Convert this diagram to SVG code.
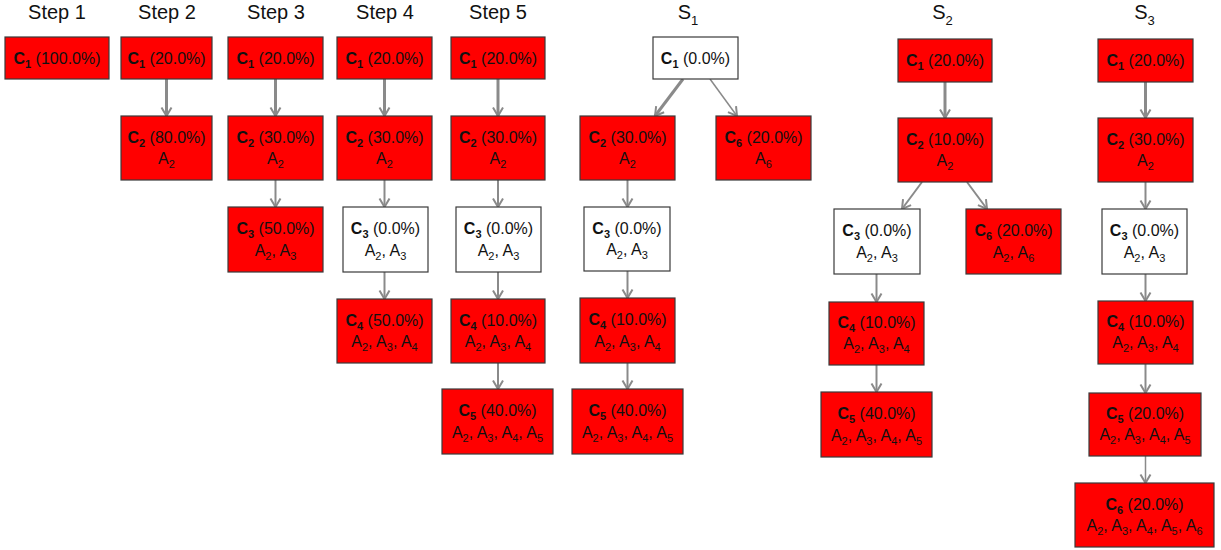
<svg xmlns="http://www.w3.org/2000/svg" width="1221" height="550" viewBox="0 0 1221 550">
  <defs>
    <marker id="vee" markerUnits="userSpaceOnUse" markerWidth="12" markerHeight="12" refX="10" refY="6" orient="auto" overflow="visible">
      <path d="M1.5,1 L10,6 L1.5,11" fill="none" stroke="#8a8a8a" stroke-width="2" stroke-linejoin="miter"/>
    </marker>
    <style>
      .title { font-family: "Liberation Sans", Arial, sans-serif; font-size: 20px; fill: #111; text-anchor: middle; }
      .lbl { font-family: "Liberation Sans", Arial, sans-serif; font-size: 16px; fill: #111; text-anchor: middle; }
      .b { font-weight: bold; }
      .sub { font-size: 11px; }
      .tsub { font-size: 13px; }
      .on { fill: #ff0000; stroke: #3a3a3a; stroke-width: 1.2; }
      .off { fill: #ffffff; stroke: #3a3a3a; stroke-width: 1.2; }
      .edge { stroke: #8a8a8a; fill: none; marker-end: url(#vee); }
      .w3 { stroke-width: 3; }
      .w2 { stroke-width: 2; }
      .w1 { stroke-width: 1.5; }
    </style>
  </defs>
  <rect width="1221" height="550" fill="#ffffff"/>

  <!-- column headings -->
  <g id="headings">
    <text class="title" x="57" y="18.5">Step 1</text>
    <text class="title" x="167" y="18.5">Step 2</text>
    <text class="title" x="276" y="18.5">Step 3</text>
    <text class="title" x="385" y="18.5">Step 4</text>
    <text class="title" x="498" y="18.5">Step 5</text>
    <text class="title" x="688" y="18.5">S<tspan class="tsub" dy="6">1</tspan></text>
    <text class="title" x="942.5" y="18.5">S<tspan class="tsub" dy="6">2</tspan></text>
    <text class="title" x="1144.5" y="18.5">S<tspan class="tsub" dy="6">3</tspan></text>
  </g>

  <!-- connectors -->
  <g id="edges">
    <!-- Step 2 -->
    <line class="edge w3" x1="166.5" y1="79" x2="166.5" y2="116"/>
    <!-- Step 3 -->
    <line class="edge w3" x1="275.5" y1="79" x2="275.5" y2="116"/>
    <line class="edge w2" x1="275.5" y1="180" x2="275.5" y2="207"/>
    <!-- Step 4 -->
    <line class="edge w3" x1="384.5" y1="79" x2="384.5" y2="116"/>
    <line class="edge w2" x1="384.5" y1="180" x2="384.5" y2="207"/>
    <line class="edge w2" x1="384.5" y1="272" x2="384.5" y2="299"/>
    <!-- Step 5 -->
    <line class="edge w3" x1="498" y1="79" x2="498" y2="116"/>
    <line class="edge w2" x1="498" y1="180" x2="498" y2="207"/>
    <line class="edge w2" x1="498" y1="272" x2="498" y2="299"/>
    <line class="edge w2" x1="498" y1="363" x2="498" y2="389"/>
    <!-- S1 -->
    <line class="edge w3" x1="683" y1="79" x2="655" y2="116"/>
    <line class="edge w1" x1="710" y1="79" x2="737" y2="116"/>
    <line class="edge w2" x1="627.5" y1="180" x2="627.5" y2="207"/>
    <line class="edge w2" x1="627.5" y1="271" x2="627.5" y2="298"/>
    <line class="edge w2" x1="627.5" y1="363" x2="627.5" y2="389"/>
    <!-- S2 -->
    <line class="edge w3" x1="945" y1="82" x2="945" y2="118"/>
    <line class="edge w2" x1="922" y1="182" x2="902" y2="209"/>
    <line class="edge w2" x1="967" y1="182" x2="987" y2="209"/>
    <line class="edge w2" x1="876.5" y1="274" x2="876.5" y2="302"/>
    <line class="edge w2" x1="876.5" y1="365" x2="876.5" y2="392"/>
    <!-- S3 -->
    <line class="edge w3" x1="1145.5" y1="82" x2="1145.5" y2="118"/>
    <line class="edge w2" x1="1145.5" y1="182" x2="1145.5" y2="209"/>
    <line class="edge w2" x1="1145.5" y1="274" x2="1145.5" y2="301"/>
    <line class="edge w2" x1="1145.5" y1="364" x2="1145.5" y2="393"/>
    <line class="edge w1" x1="1145.5" y1="456" x2="1145.5" y2="483"/>
  </g>

  <!-- Step 1 -->
  <g id="s1c1">
    <rect class="on" x="5" y="37" width="104" height="42"/>
    <text class="lbl" x="57" y="64"><tspan class="b">C</tspan><tspan class="b sub" dy="4">1</tspan><tspan dy="-4"> (100.0%)</tspan></text>
  </g>

  <!-- Step 2 -->
  <g id="st2c1">
    <rect class="on" x="121" y="37" width="91" height="42"/>
    <text class="lbl" x="166.5" y="64"><tspan class="b">C</tspan><tspan class="b sub" dy="4">1</tspan><tspan dy="-4"> (20.0%)</tspan></text>
  </g>
  <g id="st2c2">
    <rect class="on" x="121" y="116" width="91" height="64"/>
    <text class="lbl" x="166.5" y="143"><tspan class="b">C</tspan><tspan class="b sub" dy="4">2</tspan><tspan dy="-4"> (80.0%)</tspan></text>
    <text class="lbl" x="166.5" y="164">A<tspan class="sub" dy="4">2</tspan></text>
  </g>

  <!-- Step 3 -->
  <g id="st3c1">
    <rect class="on" x="228" y="37" width="95" height="42"/>
    <text class="lbl" x="275.5" y="64"><tspan class="b">C</tspan><tspan class="b sub" dy="4">1</tspan><tspan dy="-4"> (20.0%)</tspan></text>
  </g>
  <g id="st3c2">
    <rect class="on" x="228" y="116" width="95" height="64"/>
    <text class="lbl" x="275.5" y="143"><tspan class="b">C</tspan><tspan class="b sub" dy="4">2</tspan><tspan dy="-4"> (30.0%)</tspan></text>
    <text class="lbl" x="275.5" y="164">A<tspan class="sub" dy="4">2</tspan></text>
  </g>
  <g id="st3c3">
    <rect class="on" x="228" y="207" width="95" height="65"/>
    <text class="lbl" x="275.5" y="234"><tspan class="b">C</tspan><tspan class="b sub" dy="4">3</tspan><tspan dy="-4"> (50.0%)</tspan></text>
    <text class="lbl" x="275.5" y="256">A<tspan class="sub" dy="4">2</tspan><tspan dy="-4">, A</tspan><tspan class="sub" dy="4">3</tspan></text>
  </g>

  <!-- Step 4 -->
  <g id="st4c1">
    <rect class="on" x="337" y="37" width="95" height="42"/>
    <text class="lbl" x="384.5" y="64"><tspan class="b">C</tspan><tspan class="b sub" dy="4">1</tspan><tspan dy="-4"> (20.0%)</tspan></text>
  </g>
  <g id="st4c2">
    <rect class="on" x="337" y="116" width="95" height="64"/>
    <text class="lbl" x="384.5" y="143"><tspan class="b">C</tspan><tspan class="b sub" dy="4">2</tspan><tspan dy="-4"> (30.0%)</tspan></text>
    <text class="lbl" x="384.5" y="164">A<tspan class="sub" dy="4">2</tspan></text>
  </g>
  <g id="st4c3">
    <rect class="off" x="343" y="207" width="85" height="65"/>
    <text class="lbl" x="385.5" y="234"><tspan class="b">C</tspan><tspan class="b sub" dy="4">3</tspan><tspan dy="-4"> (0.0%)</tspan></text>
    <text class="lbl" x="385.5" y="256">A<tspan class="sub" dy="4">2</tspan><tspan dy="-4">, A</tspan><tspan class="sub" dy="4">3</tspan></text>
  </g>
  <g id="st4c4">
    <rect class="on" x="337" y="299" width="95" height="64"/>
    <text class="lbl" x="384.5" y="326"><tspan class="b">C</tspan><tspan class="b sub" dy="4">4</tspan><tspan dy="-4"> (50.0%)</tspan></text>
    <text class="lbl" x="384.5" y="347">A<tspan class="sub" dy="4">2</tspan><tspan dy="-4">, A</tspan><tspan class="sub" dy="4">3</tspan><tspan dy="-4">, A</tspan><tspan class="sub" dy="4">4</tspan></text>
  </g>

  <!-- Step 5 -->
  <g id="st5c1">
    <rect class="on" x="451" y="37" width="94" height="42"/>
    <text class="lbl" x="498" y="64"><tspan class="b">C</tspan><tspan class="b sub" dy="4">1</tspan><tspan dy="-4"> (20.0%)</tspan></text>
  </g>
  <g id="st5c2">
    <rect class="on" x="451" y="116" width="94" height="64"/>
    <text class="lbl" x="498" y="143"><tspan class="b">C</tspan><tspan class="b sub" dy="4">2</tspan><tspan dy="-4"> (30.0%)</tspan></text>
    <text class="lbl" x="498" y="164">A<tspan class="sub" dy="4">2</tspan></text>
  </g>
  <g id="st5c3">
    <rect class="off" x="456" y="207" width="85" height="65"/>
    <text class="lbl" x="498.5" y="234"><tspan class="b">C</tspan><tspan class="b sub" dy="4">3</tspan><tspan dy="-4"> (0.0%)</tspan></text>
    <text class="lbl" x="498.5" y="256">A<tspan class="sub" dy="4">2</tspan><tspan dy="-4">, A</tspan><tspan class="sub" dy="4">3</tspan></text>
  </g>
  <g id="st5c4">
    <rect class="on" x="451" y="299" width="94" height="64"/>
    <text class="lbl" x="498" y="326"><tspan class="b">C</tspan><tspan class="b sub" dy="4">4</tspan><tspan dy="-4"> (10.0%)</tspan></text>
    <text class="lbl" x="498" y="347">A<tspan class="sub" dy="4">2</tspan><tspan dy="-4">, A</tspan><tspan class="sub" dy="4">3</tspan><tspan dy="-4">, A</tspan><tspan class="sub" dy="4">4</tspan></text>
  </g>
  <g id="st5c5">
    <rect class="on" x="442" y="389" width="111" height="65"/>
    <text class="lbl" x="497.5" y="416"><tspan class="b">C</tspan><tspan class="b sub" dy="4">5</tspan><tspan dy="-4"> (40.0%)</tspan></text>
    <text class="lbl" x="497.5" y="438">A<tspan class="sub" dy="4">2</tspan><tspan dy="-4">, A</tspan><tspan class="sub" dy="4">3</tspan><tspan dy="-4">, A</tspan><tspan class="sub" dy="4">4</tspan><tspan dy="-4">, A</tspan><tspan class="sub" dy="4">5</tspan></text>
  </g>

  <!-- S1 -->
  <g id="sa1c1">
    <rect class="off" x="653" y="37" width="85" height="42"/>
    <text class="lbl" x="695.5" y="64"><tspan class="b">C</tspan><tspan class="b sub" dy="4">1</tspan><tspan dy="-4"> (0.0%)</tspan></text>
  </g>
  <g id="sa1c2">
    <rect class="on" x="580" y="116" width="95" height="64"/>
    <text class="lbl" x="627.5" y="143"><tspan class="b">C</tspan><tspan class="b sub" dy="4">2</tspan><tspan dy="-4"> (30.0%)</tspan></text>
    <text class="lbl" x="627.5" y="164">A<tspan class="sub" dy="4">2</tspan></text>
  </g>
  <g id="sa1c6">
    <rect class="on" x="716" y="116" width="95" height="64"/>
    <text class="lbl" x="763.5" y="143"><tspan class="b">C</tspan><tspan class="b sub" dy="4">6</tspan><tspan dy="-4"> (20.0%)</tspan></text>
    <text class="lbl" x="763.5" y="164">A<tspan class="sub" dy="4">6</tspan></text>
  </g>
  <g id="sa1c3">
    <rect class="off" x="584" y="207" width="86" height="64"/>
    <text class="lbl" x="627" y="234"><tspan class="b">C</tspan><tspan class="b sub" dy="4">3</tspan><tspan dy="-4"> (0.0%)</tspan></text>
    <text class="lbl" x="627" y="255">A<tspan class="sub" dy="4">2</tspan><tspan dy="-4">, A</tspan><tspan class="sub" dy="4">3</tspan></text>
  </g>
  <g id="sa1c4">
    <rect class="on" x="580" y="298" width="95" height="65"/>
    <text class="lbl" x="627.5" y="325"><tspan class="b">C</tspan><tspan class="b sub" dy="4">4</tspan><tspan dy="-4"> (10.0%)</tspan></text>
    <text class="lbl" x="627.5" y="347">A<tspan class="sub" dy="4">2</tspan><tspan dy="-4">, A</tspan><tspan class="sub" dy="4">3</tspan><tspan dy="-4">, A</tspan><tspan class="sub" dy="4">4</tspan></text>
  </g>
  <g id="sa1c5">
    <rect class="on" x="572" y="389" width="111" height="65"/>
    <text class="lbl" x="627.5" y="416"><tspan class="b">C</tspan><tspan class="b sub" dy="4">5</tspan><tspan dy="-4"> (40.0%)</tspan></text>
    <text class="lbl" x="627.5" y="438">A<tspan class="sub" dy="4">2</tspan><tspan dy="-4">, A</tspan><tspan class="sub" dy="4">3</tspan><tspan dy="-4">, A</tspan><tspan class="sub" dy="4">4</tspan><tspan dy="-4">, A</tspan><tspan class="sub" dy="4">5</tspan></text>
  </g>

  <!-- S2 -->
  <g id="sa2c1">
    <rect class="on" x="898" y="39" width="94" height="43"/>
    <text class="lbl" x="945" y="66"><tspan class="b">C</tspan><tspan class="b sub" dy="4">1</tspan><tspan dy="-4"> (20.0%)</tspan></text>
  </g>
  <g id="sa2c2">
    <rect class="on" x="898" y="118" width="94" height="64"/>
    <text class="lbl" x="945" y="145"><tspan class="b">C</tspan><tspan class="b sub" dy="4">2</tspan><tspan dy="-4"> (10.0%)</tspan></text>
    <text class="lbl" x="945" y="166">A<tspan class="sub" dy="4">2</tspan></text>
  </g>
  <g id="sa2c3">
    <rect class="off" x="834" y="209" width="86" height="65"/>
    <text class="lbl" x="877" y="236"><tspan class="b">C</tspan><tspan class="b sub" dy="4">3</tspan><tspan dy="-4"> (0.0%)</tspan></text>
    <text class="lbl" x="877" y="258">A<tspan class="sub" dy="4">2</tspan><tspan dy="-4">, A</tspan><tspan class="sub" dy="4">3</tspan></text>
  </g>
  <g id="sa2c6">
    <rect class="on" x="966" y="209" width="95" height="65"/>
    <text class="lbl" x="1013.5" y="236"><tspan class="b">C</tspan><tspan class="b sub" dy="4">6</tspan><tspan dy="-4"> (20.0%)</tspan></text>
    <text class="lbl" x="1013.5" y="258">A<tspan class="sub" dy="4">2</tspan><tspan dy="-4">, A</tspan><tspan class="sub" dy="4">6</tspan></text>
  </g>
  <g id="sa2c4">
    <rect class="on" x="829" y="302" width="95" height="63"/>
    <text class="lbl" x="876.5" y="328"><tspan class="b">C</tspan><tspan class="b sub" dy="4">4</tspan><tspan dy="-4"> (10.0%)</tspan></text>
    <text class="lbl" x="876.5" y="349">A<tspan class="sub" dy="4">2</tspan><tspan dy="-4">, A</tspan><tspan class="sub" dy="4">3</tspan><tspan dy="-4">, A</tspan><tspan class="sub" dy="4">4</tspan></text>
  </g>
  <g id="sa2c5">
    <rect class="on" x="821" y="392" width="111" height="65"/>
    <text class="lbl" x="876.5" y="419"><tspan class="b">C</tspan><tspan class="b sub" dy="4">5</tspan><tspan dy="-4"> (40.0%)</tspan></text>
    <text class="lbl" x="876.5" y="441">A<tspan class="sub" dy="4">2</tspan><tspan dy="-4">, A</tspan><tspan class="sub" dy="4">3</tspan><tspan dy="-4">, A</tspan><tspan class="sub" dy="4">4</tspan><tspan dy="-4">, A</tspan><tspan class="sub" dy="4">5</tspan></text>
  </g>

  <!-- S3 -->
  <g id="sa3c1">
    <rect class="on" x="1098" y="39" width="95" height="43"/>
    <text class="lbl" x="1145.5" y="66"><tspan class="b">C</tspan><tspan class="b sub" dy="4">1</tspan><tspan dy="-4"> (20.0%)</tspan></text>
  </g>
  <g id="sa3c2">
    <rect class="on" x="1098" y="118" width="95" height="64"/>
    <text class="lbl" x="1145.5" y="145"><tspan class="b">C</tspan><tspan class="b sub" dy="4">2</tspan><tspan dy="-4"> (30.0%)</tspan></text>
    <text class="lbl" x="1145.5" y="166">A<tspan class="sub" dy="4">2</tspan></text>
  </g>
  <g id="sa3c3">
    <rect class="off" x="1102" y="209" width="85" height="65"/>
    <text class="lbl" x="1144.5" y="236"><tspan class="b">C</tspan><tspan class="b sub" dy="4">3</tspan><tspan dy="-4"> (0.0%)</tspan></text>
    <text class="lbl" x="1144.5" y="258">A<tspan class="sub" dy="4">2</tspan><tspan dy="-4">, A</tspan><tspan class="sub" dy="4">3</tspan></text>
  </g>
  <g id="sa3c4">
    <rect class="on" x="1098" y="301" width="95" height="63"/>
    <text class="lbl" x="1145.5" y="327"><tspan class="b">C</tspan><tspan class="b sub" dy="4">4</tspan><tspan dy="-4"> (10.0%)</tspan></text>
    <text class="lbl" x="1145.5" y="348">A<tspan class="sub" dy="4">2</tspan><tspan dy="-4">, A</tspan><tspan class="sub" dy="4">3</tspan><tspan dy="-4">, A</tspan><tspan class="sub" dy="4">4</tspan></text>
  </g>
  <g id="sa3c5">
    <rect class="on" x="1089" y="393" width="112" height="63"/>
    <text class="lbl" x="1145" y="419"><tspan class="b">C</tspan><tspan class="b sub" dy="4">5</tspan><tspan dy="-4"> (20.0%)</tspan></text>
    <text class="lbl" x="1145" y="440">A<tspan class="sub" dy="4">2</tspan><tspan dy="-4">, A</tspan><tspan class="sub" dy="4">3</tspan><tspan dy="-4">, A</tspan><tspan class="sub" dy="4">4</tspan><tspan dy="-4">, A</tspan><tspan class="sub" dy="4">5</tspan></text>
  </g>
  <g id="sa3c6">
    <rect class="on" x="1075" y="483" width="139" height="64"/>
    <text class="lbl" x="1144.5" y="510"><tspan class="b">C</tspan><tspan class="b sub" dy="4">6</tspan><tspan dy="-4"> (20.0%)</tspan></text>
    <text class="lbl" x="1144.5" y="531">A<tspan class="sub" dy="4">2</tspan><tspan dy="-4">, A</tspan><tspan class="sub" dy="4">3</tspan><tspan dy="-4">, A</tspan><tspan class="sub" dy="4">4</tspan><tspan dy="-4">, A</tspan><tspan class="sub" dy="4">5</tspan><tspan dy="-4">, A</tspan><tspan class="sub" dy="4">6</tspan></text>
  </g>
</svg>
